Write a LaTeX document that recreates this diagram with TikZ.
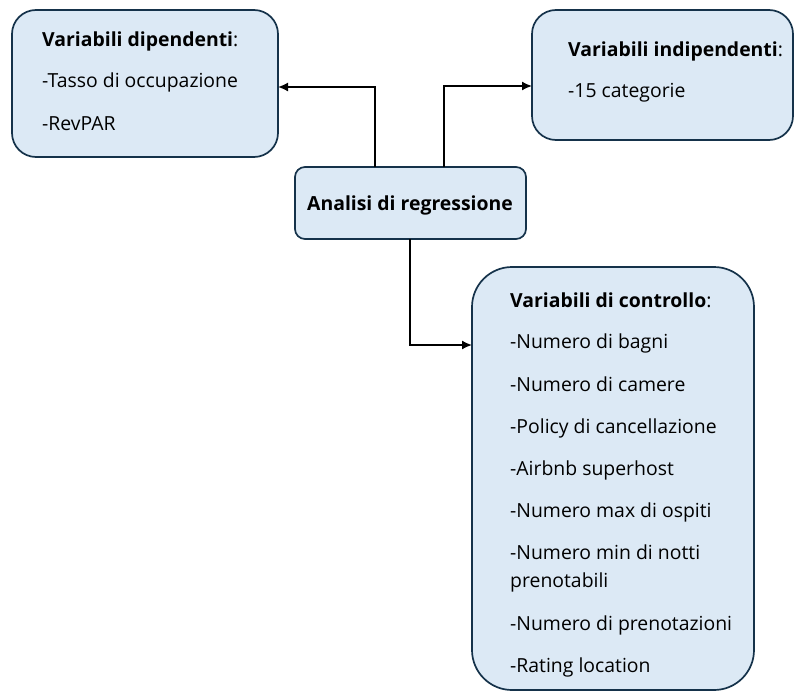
\documentclass[tikz,border=0pt]{standalone}
\usepackage{fontspec}
\setmainfont{Open Sans}
\usetikzlibrary{arrows.meta}
\definecolor{boxfill}{HTML}{DCE9F5}
\definecolor{boxline}{HTML}{15324A}
\tikzset{
  panel/.style={draw=boxline, fill=boxfill, line width=1.7pt, rounded corners=#1},
  panel/.default=24pt,
  txt/.style={anchor=base west, inner sep=0pt, font=\fontsize{19.4}{23}\selectfont},
  conn/.style={line width=1.6pt, -{Latex[length=10pt,width=9pt]}}
}
\begin{document}
\begin{tikzpicture}[x=1pt,y=-1pt]
\useasboundingbox (0,0) rectangle (795,693);
% boxes
\draw[panel] (12,10) rectangle (278,157);
\coordinate (depR) at (278,87);
\draw[panel] (532,10) rectangle (793,140);
\coordinate (indL) at (532,86);
\draw[panel=10pt] (295,167) rectangle (526,239);
\draw[panel=40pt] (472,267) rectangle (754,690);
\coordinate (ctlL) at (472,345);
% texts
\node[txt] (d0) at (42,47) {\textbf{Variabili dipendenti}:};
\node[txt] (d1) at (42,88) {-Tasso di occupazione};
\node[txt] (d2) at (42,130) {-RevPAR};
\node[txt] (i0) at (568,57) {\textbf{Variabili indipendenti}:};
\node[txt] (i1) at (568,97) {-15 categorie};
\node[txt, anchor=base] (an) at (410,210) {\textbf{Analisi di regressione}};
\node[txt] (c0) at (510,307) {\textbf{Variabili di controllo}:};
\node[txt] (c1) at (510,348) {-Numero di bagni};
\node[txt] (c2) at (510,391) {-Numero di camere};
\node[txt] (c3) at (510,433) {-Policy di cancellazione};
\node[txt] (c4) at (510,475) {-Airbnb superhost};
\node[txt] (c5) at (510,517) {-Numero max di ospiti};
\node[txt] (c6) at (510,559) {-Numero min di notti};
\node[txt] (c7) at (510,587) {prenotabili};
\node[txt] (c8) at (510,630) {-Numero di prenotazioni};
\node[txt] (c9) at (510,672) {-Rating location};
% anchors on analisi box
\coordinate (aTL) at (375,167);
\coordinate (aTR) at (444,167);
\coordinate (aB) at (410,239);
\draw[conn] (aTL) |- (depR);
\draw[conn] (aTR) |- (indL);
\draw[conn] (aB) |- (ctlL);
\end{tikzpicture}
\end{document}
